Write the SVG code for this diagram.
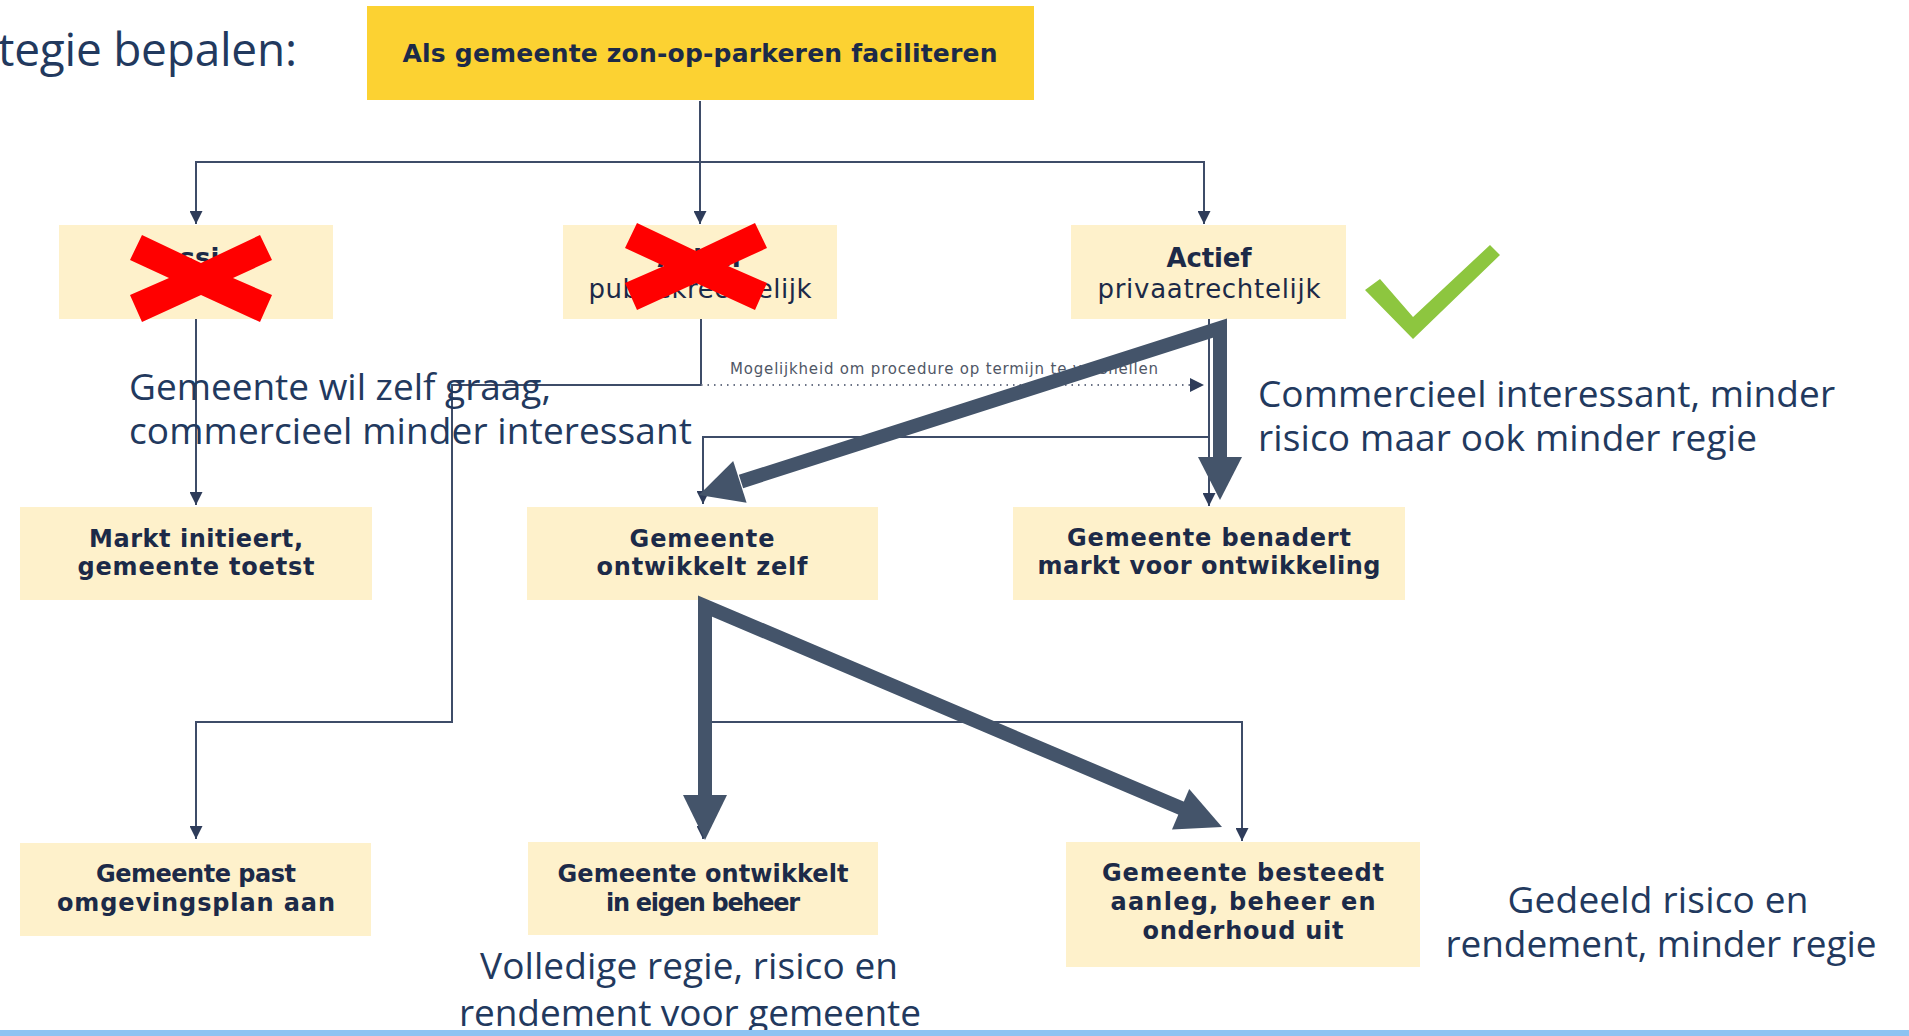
<svg xmlns="http://www.w3.org/2000/svg" width="1909" height="1036" viewBox="0 0 1909 1036">
<defs>
<style>
.box{fill:#FEF1CB}
.topbox{fill:#FCD232}
.bt{font-family:"DejaVu Sans",sans-serif;font-weight:bold;font-size:24px;fill:#1C2A48;text-anchor:middle}
.br{font-family:"DejaVu Sans",sans-serif;font-weight:normal;font-size:24px;fill:#1C2A48;text-anchor:middle}
.ann{font-family:"Open Sans","Noto Sans",sans-serif;font-size:37px;fill:#22395E}
.thin{stroke:#3E4C68;stroke-width:2;fill:none}
.dot{stroke:#6A7285;stroke-width:2.2;fill:none;stroke-dasharray:1.5 5}
.thick{stroke:#44546A;stroke-width:14;fill:none;stroke-linejoin:miter;stroke-miterlimit:6}
.head{fill:#44546A}
.cross{fill:#FF0000}
.lbl{font-family:"DejaVu Sans",sans-serif;font-size:15px;fill:#505766}
</style>
<marker id="ah" viewBox="0 0 12 12" refX="12" refY="6" markerWidth="13" markerHeight="13" markerUnits="userSpaceOnUse" orient="auto">
<path d="M0,0 L12,6 L0,12 z" fill="#2E3C5A"/>
</marker>
</defs>
<rect width="1909" height="1036" fill="#FFFFFF"/>

<text class="ann" x="297" y="66" style="font-size:46px;text-anchor:end" textLength="299">tegie bepalen:</text>

<g id="connectors">
<path class="thin" d="M700,101 V224" marker-end="url(#ah)"/>
<path class="thin" d="M700,162 H196 V224" marker-end="url(#ah)"/>
<path class="thin" d="M700,162 H1204 V224" marker-end="url(#ah)"/>
<path class="thin" d="M196,319 V505" marker-end="url(#ah)"/>
<path class="thin" d="M701,319 V385 H452 V722 H196 V839" marker-end="url(#ah)"/>
<path class="dot" d="M701,385 H1193"/>
<path d="M1190,378 L1204,385 L1190,392 z" fill="#2E3C5A"/>
<path class="thin" d="M1209,319 V506" marker-end="url(#ah)"/>
<path class="thin" d="M1209,437 H703 V504" marker-end="url(#ah)"/>
<path class="thin" d="M703,600 V839" marker-end="url(#ah)"/>
<path class="thin" d="M703,722 H1242 V841" marker-end="url(#ah)"/>
<text class="lbl" x="730" y="374" textLength="428">Mogelijkheid om procedure op termijn te versnellen</text>
</g>

<g id="n-top">
<rect class="topbox" x="367" y="6" width="667" height="94"/>
<text class="bt" x="700" y="62" style="font-size:25px" textLength="595">Als gemeente zon-op-parkeren faciliteren</text>
</g>

<g id="n-passief">
<rect class="box" x="59" y="225" width="274" height="94"/>
<text class="bt" x="196" y="267" style="font-size:26px">Passief</text>
</g>

<g id="n-publiek">
<rect class="box" x="563" y="225" width="274" height="94"/>
<text class="bt" x="700" y="267" style="font-size:26px" textLength="85">Actief</text>
<text class="br" x="700" y="298" style="font-size:26px" textLength="223">publiekrechtelijk</text>
</g>

<g id="n-privaat">
<rect class="box" x="1071" y="225" width="275" height="94"/>
<text class="bt" x="1209" y="267" style="font-size:26px" textLength="85">Actief</text>
<text class="br" x="1209" y="298" style="font-size:26px" textLength="223">privaatrechtelijk</text>
</g>

<g id="n-markt">
<rect class="box" x="20" y="507" width="352" height="93"/>
<text class="bt" x="196" y="547" textLength="214">Markt initieert,</text>
<text class="bt" x="196" y="575" textLength="237">gemeente toetst</text>
</g>

<g id="n-zelf">
<rect class="box" x="527" y="507" width="351" height="93"/>
<text class="bt" x="702" y="547" textLength="145">Gemeente</text>
<text class="bt" x="702" y="575" textLength="211">ontwikkelt zelf</text>
</g>

<g id="n-benadert">
<rect class="box" x="1013" y="507" width="392" height="93"/>
<text class="bt" x="1209" y="546" textLength="284">Gemeente benadert</text>
<text class="bt" x="1209" y="574" textLength="343">markt voor ontwikkeling</text>
</g>

<g id="n-omgevingsplan">
<rect class="box" x="20" y="843" width="351" height="93"/>
<text class="bt" x="196" y="882" textLength="200">Gemeente past</text>
<text class="bt" x="196" y="911" textLength="278">omgevingsplan aan</text>
</g>

<g id="n-eigen">
<rect class="box" x="528" y="842" width="350" height="93"/>
<text class="bt" x="703" y="882" textLength="291">Gemeente ontwikkelt</text>
<text class="bt" x="703" y="911" textLength="194">in eigen beheer</text>
</g>

<g id="n-besteedt">
<rect class="box" x="1066" y="842" width="354" height="125"/>
<text class="bt" x="1243" y="881" textLength="282">Gemeente besteedt</text>
<text class="bt" x="1243" y="910" textLength="265">aanleg, beheer en</text>
<text class="bt" x="1243" y="939" textLength="201">onderhoud uit</text>
</g>

<g id="crosses">
<polygon class="cross" points="142,235 201,263 260,235 272,260 233,278 272,295 260,322 201,295 142,322 130,295 169,278 130,260"/>
<polygon class="cross" points="637,223 696,251 755,223 767,248 728,266 767,283 755,310 696,283 637,310 625,283 664,266 625,248"/>
</g>

<g id="check">
<polygon fill="#8DC63F" points="1365,290 1413,339 1500,255 1490,245 1413,317 1380,279"/>
</g>

<g id="annotations">
<text class="ann" x="129" y="400" textLength="422">Gemeente wil zelf graag,</text>
<text class="ann" x="129" y="444" textLength="563">commercieel minder interessant</text>
<text class="ann" x="1258" y="407" textLength="577">Commercieel interessant, minder</text>
<text class="ann" x="1258" y="451" textLength="499">risico maar ook minder regie</text>
<text class="ann" x="689" y="979" style="text-anchor:middle" textLength="418">Volledige regie, risico en</text>
<text class="ann" x="690" y="1026" style="text-anchor:middle" textLength="462">rendement voor gemeente</text>
<text class="ann" x="1658" y="913" style="text-anchor:middle" textLength="301">Gedeeld risico en</text>
<text class="ann" x="1661" y="957" style="text-anchor:middle" textLength="431">rendement, minder regie</text>
</g>

<g id="thick-arrows">
<path class="thick" d="M741,481.5 L1220,328 L1220,460"/>
<polygon class="head" points="699,495 746.6,502.8 733.2,461"/>
<polygon class="head" points="1220,500 1198,457 1242,457"/>
<path class="thick" d="M705,798 L705,606 L1182,808.5"/>
<polygon class="head" points="705,840 683,795 727,795"/>
<polygon class="head" points="1222,827 1172,829.5 1189.2,789.1"/>
</g>

<rect x="0" y="1030" width="1909" height="6" fill="#8DC3F2"/>
</svg>
